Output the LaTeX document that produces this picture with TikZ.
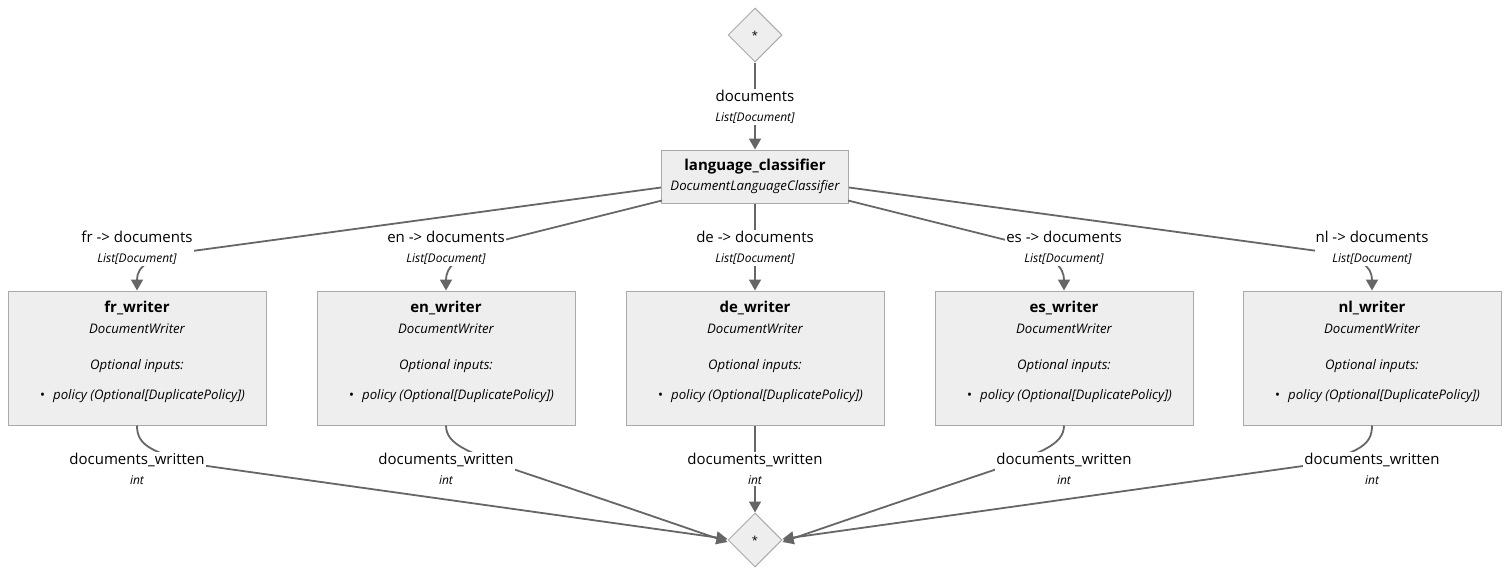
\documentclass[tikz,border=0pt]{standalone}
\usepackage{fontspec}
\setmainfont{Open Sans}
\usetikzlibrary{shapes.geometric,arrows.meta}
\definecolor{boxfill}{HTML}{EEEEEE}
\definecolor{boxline}{HTML}{AAAAAA}
\definecolor{edgeline}{HTML}{666666}
\tikzset{
  comp/.style={draw=boxline, fill=boxfill, line width=1pt, inner sep=0pt},
  junction/.style={shape=diamond, draw=boxline, fill=boxfill, line width=1pt,
    minimum width=54pt, minimum height=54pt, inner sep=0pt, font=\fontsize{11}{13}\selectfont},
  flow/.style={draw=edgeline, line width=1.8pt, -{Triangle[length=11pt,width=12pt]}},
  lbl/.style={fill=white, inner sep=1pt, align=center, font=\fontsize{15}{20}\selectfont},
  ctitle/.style={font=\bfseries\fontsize{15}{18}\selectfont, inner sep=0pt},
  ctype/.style={font=\itshape\fontsize{13.2}{16}\selectfont, inner sep=0pt}
}
\begin{document}
\begin{tikzpicture}[x=1pt, y=-1pt]
\useasboundingbox (0,0) rectangle (1510,576);
% pipeline ends
\node[junction] (top) at (755,35) {*};
\node[junction] (bot) at (755,540) {*};
% classifier
\node[comp, minimum width=187pt, minimum height=53pt] (clf) at (755,176.5) {};
\node[ctitle] (clft) at (755,167) {language\_classifier};
\node[ctype] (clfs) at (755,187.5) {DocumentLanguageClassifier};
% writers
\foreach \lang/\x in {fr/137,en/446,de/755,es/1064,nl/1372} {
  \node[comp, minimum width=258pt, minimum height=134pt] (\lang w) at (\x,358) {};
  \node[ctitle] (\lang t) at (\x,308) {\lang\_writer};
  \node[ctype] (\lang s) at (\x,328.5) {DocumentWriter};
  \node[ctype] (\lang o) at (\x,366.5) {Optional inputs:};
  \node[ctype, anchor=west] (\lang p) at (\x-97,396.5) {\upshape\textbullet\hspace{8pt}\itshape policy (Optional[DuplicatePolicy])};
}
% edges
\draw[flow] (top) -- (clf);
\draw[flow] ([yshift=-11pt]clf.west) -- (185,252) .. controls (150,257) and (137,266) .. (frw.north);
\draw[flow] ([xshift=1pt,yshift=3pt]clf.south west) -- (500,241) .. controls (455,255) and (446,268) .. (enw.north);
\draw[flow] (clf) -- (dew);
\draw[flow] ([xshift=-1pt,yshift=3pt]clf.south east) -- (1010,241) .. controls (1055,255) and (1064,268) .. (esw.north);
\draw[flow] ([yshift=-11pt]clf.east) -- (1325,252) .. controls (1360,257) and (1372,266) .. (nlw.north);
\draw[flow] (frw.south) .. controls (137,445) and (150,452) .. (200,465) -- ([yshift=1pt]bot.west);
\draw[flow] (enw.south) .. controls (446,445) and (470,452) .. (510,468) .. controls (620,505) .. ([yshift=-2pt]bot.west);
\draw[flow] (dew) -- (bot);
\draw[flow] (esw.south) .. controls (1064,445) and (1040,452) .. (1000,468) .. controls (890,505) .. ([yshift=-2pt]bot.east);
\draw[flow] (nlw.south) .. controls (1372,445) and (1360,452) .. (1310,465) -- ([yshift=1pt]bot.east);
% edge labels
\node[lbl] (docsin) at (755,107) {documents\\{\itshape\fontsize{12}{14}\selectfont List[Document]}};
\foreach \lang/\x in {fr/137,en/446,de/755,es/1064,nl/1372} {
  \node[lbl] (\lang in) at (\x,248) {\lang{} -> documents\\{\itshape\fontsize{12}{14}\selectfont List[Document]}};
  \node[lbl] (\lang out) at (\x,469) {documents\_written\\{\itshape\fontsize{12}{14}\selectfont int}};
}
\end{tikzpicture}
\end{document}
